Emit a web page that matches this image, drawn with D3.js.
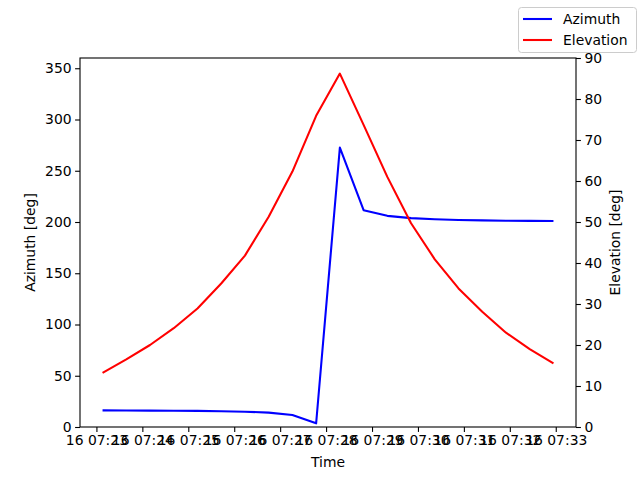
<!DOCTYPE html>
<html><head><meta charset="utf-8">
<script src="https://cdn.jsdelivr.net/npm/d3@7"></script>
<style>body{margin:0;background:#fff}svg{display:block;font-family:"DejaVu Sans",sans-serif}</style>
</head><body><svg id="c" width="640" height="480"></svg>
<script>
const times = ["07:23:08","07:23:39","07:24:10","07:24:41","07:25:12","07:25:43","07:26:14","07:26:45","07:27:16","07:27:47","07:28:18","07:28:49","07:29:20","07:29:51","07:30:22","07:30:53","07:31:24","07:31:55","07:32:26","07:32:57"];
const azimuth = [16.2,16.1,16.0,15.9,15.7,15.4,14.9,14.0,11.7,3.6,272.6,211.5,206.0,203.8,202.7,202.0,201.6,201.3,201.1,201.0];
const elevation = [13.2,16.5,20.0,24.1,28.9,35.0,41.8,51.3,62.3,75.9,86.2,73.7,61.0,49.7,40.9,33.8,28.1,23.0,19.0,15.5];
const azTicks = [0,50,100,150,200,250,300,350];
const elTicks = [0,10,20,30,40,50,60,70,80,90];
const seriesNames = ["Azimuth","Elevation"];

const parse = d3.utcParse("%Y-%m-%d %H:%M:%S");
const tdata = times.map(t => parse("2000-01-16 " + t));
const L = 80, R = 576, T = 58, B = 427;
const svg = d3.select("#c");
const t0 = tdata[0], t1 = tdata[tdata.length-1];
const span = t1 - t0;
const x = d3.scaleUtc().domain([new Date(+t0 - span*0.05), new Date(+t1 + span*0.05)]).range([L, R]);
const yA = d3.scaleLinear().domain([0,360]).range([B, T]);
const yE = d3.scaleLinear().domain([0,90]).range([B, T]);
const fs = "13.9px";

const lineA = d3.line().x((d,i)=>x(tdata[i])).y(d=>yA(d));
const lineE = d3.line().x((d,i)=>x(tdata[i])).y(d=>yE(d));
svg.append("path").attr("d", lineA(azimuth)).attr("fill","none").attr("stroke","#0000ff").attr("stroke-width",2.08).attr("stroke-linejoin","round");
svg.append("path").attr("d", lineE(elevation)).attr("fill","none").attr("stroke","#ff0000").attr("stroke-width",2.08).attr("stroke-linejoin","round");

const xTicks = d3.utcMinute.every(1).range(new Date(+t0 - span*0.05), new Date(+t1 + span*0.05));
const fmt = d3.utcFormat("%d %H:%M");
const gx = svg.append("g").attr("transform",`translate(0,${B})`)
  .call(d3.axisBottom(x).tickValues(xTicks).tickFormat(fmt).tickSizeOuter(0).tickSize(4.9).tickPadding(3.5));
const gl = svg.append("g").attr("transform",`translate(${L},0)`)
  .call(d3.axisLeft(yA).tickValues(azTicks).tickSizeOuter(0).tickSize(4.9).tickPadding(3.5));
const gr = svg.append("g").attr("transform",`translate(${R},0)`)
  .call(d3.axisRight(yE).tickValues(elTicks).tickSizeOuter(0).tickSize(4.9).tickPadding(3.5));
[gx,gl,gr].forEach(g=>{
  g.select(".domain").remove();
  g.selectAll("line").attr("stroke","#000").attr("stroke-width",1.1);
  g.selectAll("text").attr("font-size",fs).attr("fill","#000").attr("font-family","DejaVu Sans");
});
svg.append("rect").attr("x",L).attr("y",T).attr("width",R-L).attr("height",B-T).attr("fill","none").attr("stroke","#000").attr("stroke-width",1.1);

svg.append("text").attr("x",(L+R)/2).attr("y",467).attr("text-anchor","middle").attr("font-size",fs).text("Time");
svg.append("text").attr("transform",`translate(35,${(T+B)/2}) rotate(-90)`).attr("text-anchor","middle").attr("font-size",fs).text("Azimuth [deg]");
svg.append("text").attr("transform",`translate(620,${(T+B)/2}) rotate(-90)`).attr("text-anchor","middle").attr("font-size",fs).text("Elevation [deg]");

const lg = svg.append("g");
lg.append("rect").attr("x",518.5).attr("y",7.5).attr("width",118).attr("height",45).attr("rx",3).attr("fill","#fff").attr("fill-opacity",0.8).attr("stroke","#cccccc").attr("stroke-width",1);
const colors = ["#0000ff","#ff0000"];
seriesNames.forEach((n,i)=>{
  const yy = 19 + i*21;
  lg.append("line").attr("x1",523).attr("x2",552).attr("y1",yy).attr("y2",yy).attr("stroke",colors[i]).attr("stroke-width",2.08);
  lg.append("text").attr("x",563).attr("y",yy).attr("dy","0.35em").attr("font-size",fs).text(n);
});
</script></body></html>
